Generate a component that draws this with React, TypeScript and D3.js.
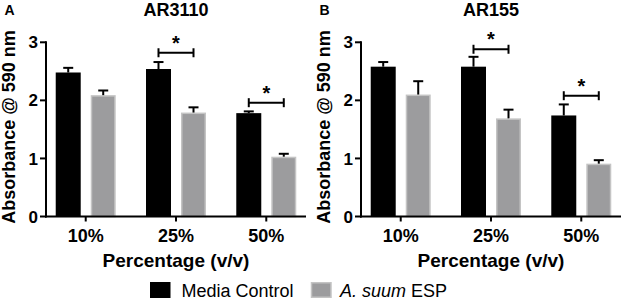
import React from "react";
import * as d3 from "d3";

const categories = ["10%", "25%", "50%"];
const seriesNames = ["Media Control", "A. suum ESP"];
const panelLetters = ["A", "B"];
const panelTitles = ["AR3110", "AR155"];

const controlMeansA = [2.48, 2.54, 1.78];
const controlErrA = [0.08, 0.12, 0.03];
const espMeansA = [2.09, 1.79, 1.03];
const espErrA = [0.08, 0.09, 0.05];

const controlMeansB = [2.58, 2.58, 1.74];
const controlErrB = [0.08, 0.17, 0.19];
const espMeansB = [2.1, 1.69, 0.91];
const espErrB = [0.23, 0.15, 0.06];

// significance bracket heights (null = none)
const sigA = [null, 2.82, 1.96];
const sigB = [null, 2.88, 2.08];

const yTicks = [0, 1, 2, 3];

const W = 624;
const H = 301;
const FONT = "Arial, 'Liberation Sans', Helvetica, sans-serif";
const BLACK = "#000000";
const GREY = "#9c9c9e";
const GREY_EDGE = "#c4c4c4";

const panels = [
  { letter: panelLetters[0], title: panelTitles[0], ctrl: controlMeansA, ctrlErr: controlErrA, esp: espMeansA, espErr: espErrA, sig: sigA },
  { letter: panelLetters[1], title: panelTitles[1], ctrl: controlMeansB, ctrlErr: controlErrB, esp: espMeansB, espErr: espErrB, sig: sigB },
];

const PANEL_SHIFT = 315;
const AXIS_X0 = 46;
const AXIS_X1 = 306;

const y = d3.scaleLinear().domain([0, 3]).range([216.5, 42.3]);
const xCat = d3.scalePoint<string>().domain(categories).range([AXIS_X0, AXIS_X1]).padding(0.44);
const xSeries = d3.scaleBand<string>().domain(seriesNames).range([-30, 30]).paddingInner(0.286);

function Panel({ p, idx }: { p: typeof panels[0]; idx: number }) {
  const off = idx * PANEL_SHIFT;
  const bw = xSeries.bandwidth();
  const y0 = y(0);
  const series = [
    { name: seriesNames[0], means: p.ctrl, errs: p.ctrlErr, fill: BLACK, stroke: "none" },
    { name: seriesNames[1], means: p.esp, errs: p.espErr, fill: GREY, stroke: GREY_EDGE },
  ];
  const midX = (AXIS_X0 + AXIS_X1) / 2;
  return (
    <g transform={`translate(${off},0)`}>
      <text x={4.5} y={15} fontFamily={FONT} fontWeight="bold" fontSize={14}>{p.letter}</text>
      <text x={xCat(categories[1])} y={15.8} fontFamily={FONT} fontWeight="bold" fontSize={18} textAnchor="middle">{p.title}</text>
      {/* bars */}
      {series.map((s) =>
        categories.map((c, i) => {
          const x = (xCat(c) as number) + (xSeries(s.name) as number);
          const top = y(s.means[i]);
          const errTop = y(s.means[i] + s.errs[i]);
          const cx = x + bw / 2;
          return (
            <g key={s.name + c}>
              {s.stroke !== "none" ? (
                <rect x={x + 0.75} y={top + 0.75} width={bw - 1.5} height={y0 - top - 0.75} fill={s.fill} stroke={s.stroke} strokeWidth={1.5} />
              ) : (
                <rect x={x} y={top} width={bw} height={y0 - top} fill={s.fill} />
              )}
              <line x1={cx} x2={cx} y1={top} y2={errTop} stroke={BLACK} strokeWidth={2} />
              <line x1={cx - 5} x2={cx + 5} y1={errTop} y2={errTop} stroke={BLACK} strokeWidth={2} />
            </g>
          );
        })
      )}
      {/* significance brackets */}
      {categories.map((c, i) => {
        const v = p.sig[i];
        if (v == null) return null;
        const x1 = (xCat(c) as number) + (xSeries(seriesNames[0]) as number) + bw / 2;
        const x2 = (xCat(c) as number) + (xSeries(seriesNames[1]) as number) + bw / 2;
        const yy = y(v);
        return (
          <g key={"sig" + c}>
            <line x1={x1} x2={x2} y1={yy} y2={yy} stroke={BLACK} strokeWidth={2} />
            <line x1={x1} x2={x1} y1={yy - 4.5} y2={yy + 4.5} stroke={BLACK} strokeWidth={2} />
            <line x1={x2} x2={x2} y1={yy - 4.5} y2={yy + 4.5} stroke={BLACK} strokeWidth={2} />
            <text x={(x1 + x2) / 2} y={yy - 3} fontFamily={FONT} fontWeight="bold" fontSize={20} textAnchor="middle">*</text>
          </g>
        );
      })}
      {/* y axis */}
      <line x1={AXIS_X0} x2={AXIS_X0} y1={y(0) + 1} y2={y(3) - 1} stroke={BLACK} strokeWidth={2} />
      {yTicks.map((t) => (
        <g key={"yt" + t}>
          <line x1={AXIS_X0 - 6} x2={AXIS_X0} y1={y(t)} y2={y(t)} stroke={BLACK} strokeWidth={2} />
          <text x={AXIS_X0 - 8} y={y(t)} dy="0.36em" fontFamily={FONT} fontWeight="bold" fontSize={17} textAnchor="end">{t}</text>
        </g>
      ))}
      {/* x axis */}
      <line x1={AXIS_X0 - 1} x2={AXIS_X1} y1={y0} y2={y0} stroke={BLACK} strokeWidth={2} />
      {categories.map((c) => (
        <g key={"xt" + c}>
          <line x1={xCat(c)} x2={xCat(c)} y1={y0} y2={y0 + 5} stroke={BLACK} strokeWidth={2} />
          <text x={xCat(c)} y={241.7} fontFamily={FONT} fontWeight="bold" fontSize={18} textAnchor="middle">{c}</text>
        </g>
      ))}
      <text x={midX} y={266.5} fontFamily={FONT} fontWeight="bold" fontSize={19} textAnchor="middle">Percentage (v/v)</text>
      <text transform={`translate(15,127) rotate(-90)`} fontFamily={FONT} fontWeight="bold" fontSize={18} textAnchor="middle">Absorbance @ 590 nm</text>
    </g>
  );
}

export default function App() {
  return (
    <svg width={W} height={H} style={{ position: "absolute", left: 0, top: 0, background: "#fff" }}>
      <rect x={0} y={0} width={W} height={H} fill="#fff" />
      {panels.map((p, i) => (
        <Panel key={p.letter} p={p} idx={i} />
      ))}
      {/* legend */}
      <rect x={150} y={282} width={20.5} height={16} fill={BLACK} />
      <text x={181.5} y={297} fontFamily={FONT} fontSize={18}>{seriesNames[0]}</text>
      <rect x={311.5} y={282.75} width={19.5} height={14.5} fill={GREY} stroke={GREY_EDGE} strokeWidth={1.5} />
      <text x={340} y={297} fontFamily={FONT} fontSize={18}>
        <tspan fontStyle="italic">A. suum</tspan>
        <tspan> ESP</tspan>
      </text>
    </svg>
  );
}
